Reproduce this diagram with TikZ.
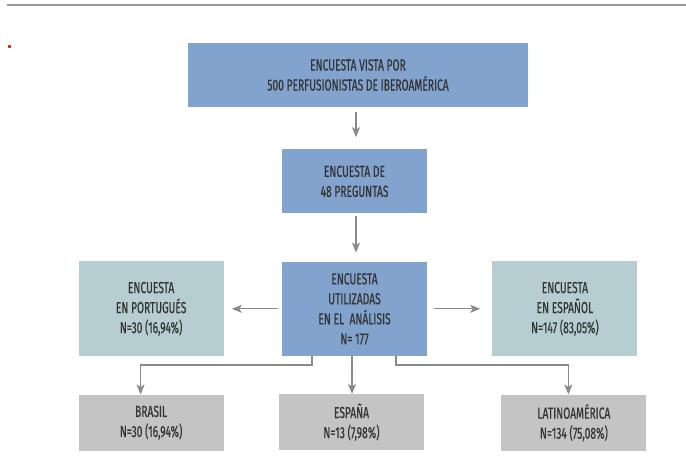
\documentclass[tikz,border=0pt]{standalone}
\usepackage{fontspec}
\setmainfont{Fira Sans}[FakeStretch=0.64, FakeBold=0.4]
\usepackage{tikz}
\usetikzlibrary{arrows.meta, positioning}

\definecolor{boxblue}{HTML}{83A3CF}
\definecolor{boxteal}{HTML}{B6CED1}
\definecolor{boxgray}{HTML}{C4C4C4}
\definecolor{txtgray}{HTML}{333333}
\definecolor{arrgray}{HTML}{8A8A8A}

\begin{document}
\begin{tikzpicture}[
			x=1pt, y=-1pt,
			every node/.style={
				align=center,
				minimum width=145pt,
				inner sep=0pt,
				text=txtgray,
				font=\fontsize{16}{20}\selectfont
			},
			bluebox/.style={fill=boxblue},
			tealbox/.style={fill=boxteal, minimum height=95pt},
			graybox/.style={fill=boxgray, minimum height=56pt},
			flow/.style={-{Stealth[length=10pt, width=8pt, inset=2.5pt]}, arrgray, line width=1.3pt}
			]
			
			% frame
			\useasboundingbox (0,0) rectangle (686,476);
			\draw[line width=2pt, color=gray!80] (7,5) -- (686,5);
			\fill[red!75!black!80] (8,45) rectangle (11,48);
			
			% Level 1
			\node[bluebox, minimum width=340pt, minimum height=64pt] (survey) at (358,75) {ENCUESTA VISTA POR\\500 PERFUSIONISTAS DE IBEROAMÉRICA};
			
			% Level 2
			\node[bluebox, minimum height=64pt, below=42pt of survey, xshift=-3.5pt] (questions) {ENCUESTA DE\\48 PREGUNTAS};
			
			% Level 3
			\node[bluebox, minimum height=94pt, below=48pt of questions] (used) {ENCUESTA\\UTILIZADAS\\EN EL \ ANÁLISIS\\N= 177};
			\node[tealbox, left=58pt of used] (portugues) {ENCUESTA\\EN PORTUGUÉS\\N=30 (16,94\%)};
			\node[tealbox, right=65pt of used] (espanol) {ENCUESTA\\EN ESPAÑOL\\N=147 (83,05\%)};
			
			% Level 4
			\node[graybox, below=38pt of portugues] (brasil) {BRASIL\\N=30 (16,94\%)};
			\node[graybox, below=38pt of used, xshift=-3pt] (espana) {ESPAÑA\\N=13 (7,98\%)};
			\node[graybox, below=38pt of espanol, xshift=9pt] (latam) {LATINOAMÉRICA\\N=134 (75,08\%)};
			
			% Arrows
			\draw[flow, shorten <=5pt, shorten >=12pt] ([xshift=-2pt]survey.south) -- ([xshift=1.5pt]questions.north);
			\draw[flow, shorten <=2pt, shorten >=9pt] ([xshift=1.5pt]questions.south) -- ([xshift=1.5pt]used.north);
			\draw[flow, shorten <=4pt, shorten >=8pt] (used.west) -- (portugues.east);
			\draw[flow, shorten <=7pt, shorten >=12pt] (used.east) -- (espanol.west);
			
			\draw[flow] ([xshift=-42.5pt]used.south) -- ++(0,9) -| ([xshift=-10.5pt]brasil.north);
			\draw[flow] ([xshift=-2.5pt]used.south) -- ([xshift=0.5pt]espana.north);
			\draw[flow] ([xshift=41.5pt]used.south) -- ++(0,9) -| ([xshift=-5.5pt]latam.north);
			
		\end{tikzpicture}
\end{document}
